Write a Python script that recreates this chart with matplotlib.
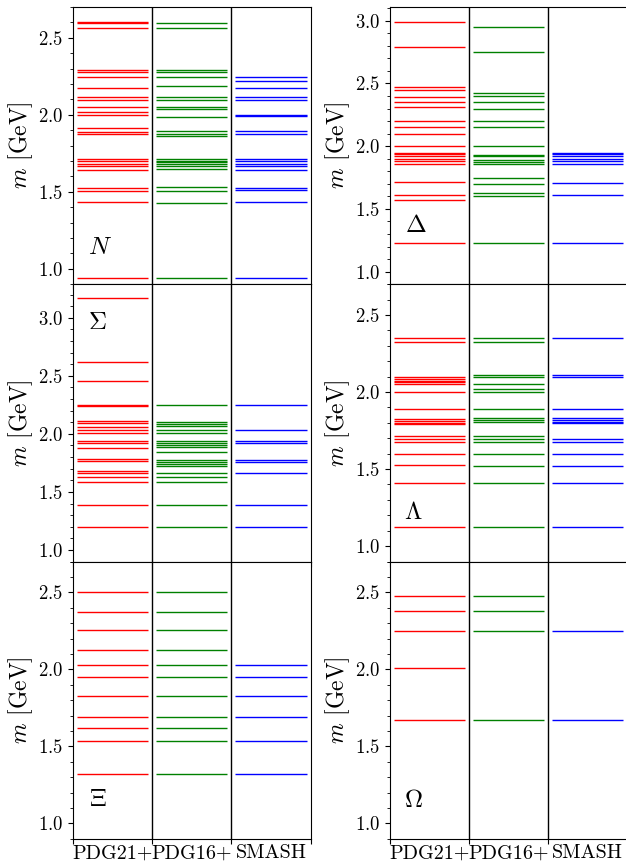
import matplotlib
matplotlib.use("Agg")
import matplotlib.pyplot as plt
from matplotlib.ticker import MultipleLocator, FixedLocator

plt.rcParams["font.family"] = "serif"
plt.rcParams["font.serif"] = ["cmr10"]
plt.rcParams["mathtext.fontset"] = "cm"
plt.rcParams["axes.formatter.use_mathtext"] = True

# hadron lists and their colours
sources = ["PDG21+", "PDG16+", "SMASH"]
colors = ["red", "green", "blue"]

# baryon masses [GeV] per list
n_pdg21 = [0.938, 1.435, 1.508, 1.526, 1.644, 1.670, 1.681, 1.703, 1.714, 1.875,
           1.888, 1.914, 1.996, 2.016, 2.048, 2.098, 2.115, 2.173, 2.245, 2.277,
           2.292, 2.564, 2.594, 2.605]
n_pdg16 = [0.938, 1.426, 1.508, 1.530, 1.649, 1.670, 1.681, 1.692, 1.703, 1.714,
           1.862, 1.873, 1.894, 1.987, 2.038, 2.053, 2.098, 2.115, 2.185, 2.245,
           2.277, 2.292, 2.564, 2.594]
n_smash = [0.938, 1.435, 1.510, 1.526, 1.644, 1.670, 1.681, 1.703, 1.714, 1.875,
           1.894, 1.990, 2.000, 2.098, 2.115, 2.173, 2.218, 2.245]

delta_pdg21 = [1.228, 1.568, 1.608, 1.713, 1.860, 1.880, 1.894, 1.920, 1.934, 1.947,
               2.000, 2.100, 2.151, 2.198, 2.310, 2.352, 2.392, 2.450, 2.472, 2.794,
               2.991]
delta_pdg16 = [1.228, 1.600, 1.629, 1.700, 1.748, 1.860, 1.872, 1.886, 1.920, 1.930,
               2.000, 2.151, 2.198, 2.299, 2.352, 2.397, 2.421, 2.752, 2.953]
delta_smash = [1.228, 1.608, 1.708, 1.860, 1.880, 1.894, 1.920, 1.934, 1.947]

sigma_pdg21 = [1.195, 1.388, 1.583, 1.626, 1.664, 1.678, 1.770, 1.784, 1.882, 1.920,
               1.943, 2.006, 2.034, 2.063, 2.095, 2.109, 2.241, 2.253, 2.454, 2.618,
               3.167]
sigma_pdg16 = [1.195, 1.388, 1.583, 1.626, 1.664, 1.727, 1.741, 1.761, 1.776, 1.842,
               1.885, 1.902, 1.920, 1.943, 2.006, 2.034, 2.069, 2.086, 2.106, 2.253]
sigma_smash = [1.195, 1.388, 1.664, 1.756, 1.776, 1.920, 1.943, 2.034, 2.253]

lambda_pdg21 = [1.122, 1.408, 1.526, 1.601, 1.676, 1.694, 1.715, 1.790, 1.801, 1.814,
                1.825, 1.891, 1.999, 2.055, 2.063, 2.074, 2.085, 2.098, 2.324, 2.349]
lambda_pdg16 = [1.122, 1.408, 1.522, 1.601, 1.676, 1.694, 1.715, 1.808, 1.818, 1.829,
                1.891, 1.999, 2.020, 2.055, 2.098, 2.109, 2.324, 2.349]
lambda_smash = [1.122, 1.408, 1.522, 1.601, 1.676, 1.694, 1.801, 1.808, 1.818, 1.829,
                1.891, 2.098, 2.109, 2.349]

xi_pdg21 = [1.322, 1.535, 1.621, 1.693, 1.825, 1.953, 2.027, 2.125, 2.255, 2.374, 2.502]
xi_pdg16 = [1.322, 1.535, 1.621, 1.693, 1.825, 1.953, 2.027, 2.125, 2.255, 2.374, 2.502]
xi_smash = [1.318, 1.535, 1.693, 1.825, 1.953, 2.027]

omega_pdg21 = [1.671, 2.010, 2.249, 2.381, 2.474]
omega_pdg16 = [1.671, 2.249, 2.379, 2.474]
omega_smash = [1.671, 2.249]

# panel order: row by row, left to right
panels = [
    (r"$N$", [n_pdg21, n_pdg16, n_smash], 2.70, (0.114, 0.13)),
    (r"$\Delta$", [delta_pdg21, delta_pdg16, delta_smash], 3.11, (0.11, 0.21)),
    (r"$\Sigma$", [sigma_pdg21, sigma_pdg16, sigma_smash], 3.29, (0.104, 0.862)),
    (r"$\Lambda$", [lambda_pdg21, lambda_pdg16, lambda_smash], 2.70, (0.10, 0.175)),
    (r"$\Xi$", [xi_pdg21, xi_pdg16, xi_smash], 2.70, (0.103, 0.14)),
    (r"$\Omega$", [omega_pdg21, omega_pdg16, omega_smash], 2.70, (0.10, 0.138)),
]

fig, axes = plt.subplots(3, 2, figsize=(6.26, 8.63), dpi=100)
fig.subplots_adjust(left=0.1166, right=1.002, top=0.992, bottom=0.028,
                    wspace=0.333, hspace=0.0)

for k, (ax, (name, lists, ytop, pos)) in enumerate(zip(axes.flat, panels)):
    for i, (masses, c) in enumerate(zip(lists, colors)):
        ax.hlines(masses, i + 0.05, i + 0.95, color=c, lw=1.0)
    for xd in (1, 2):
        ax.axvline(xd, color="k", lw=1.0)
    ax.set_xlim(0, 3)
    ax.set_ylim(0.9, ytop)
    ax.yaxis.set_major_locator(MultipleLocator(0.5))
    ax.yaxis.set_minor_locator(MultipleLocator(0.1))
    ax.set_xticks([0, 1, 2, 3])
    ax.set_xticklabels([])
    ax.xaxis.set_minor_locator(FixedLocator([0.5, 1.5, 2.5]))
    ax.tick_params(axis="x", which="minor", length=0, labelsize=14.5, pad=4)
    ax.tick_params(axis="y", labelsize=13.5)
    if k >= 4:
        ax.set_xticklabels(sources, minor=True)
    else:
        ax.set_xticklabels([], minor=True)
    ax.set_ylabel(r"$m$ [GeV]", fontsize=17, labelpad=2)
    ax.text(pos[0], pos[1], name, transform=ax.transAxes, fontsize=18,
            ha="center", va="center")

fig.savefig("out.png", dpi=100)
